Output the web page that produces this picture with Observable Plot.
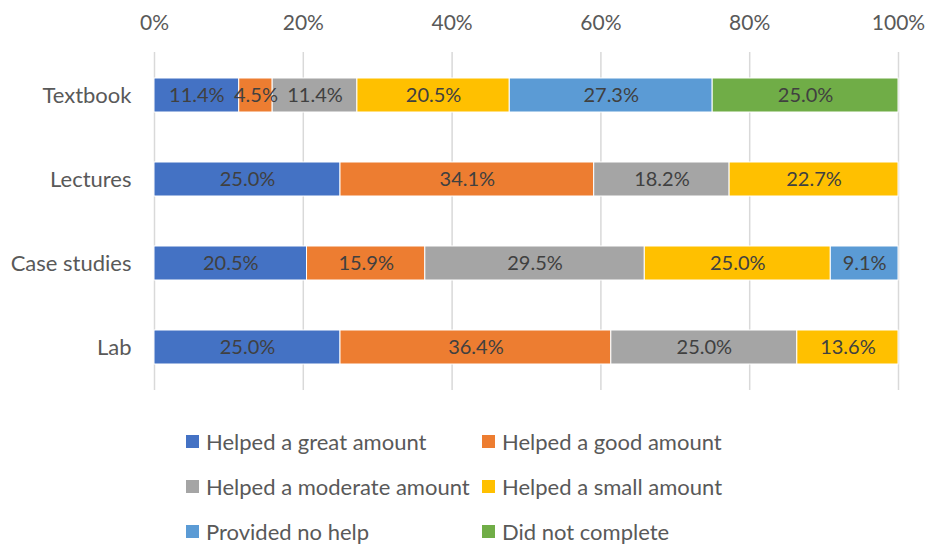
<!DOCTYPE html>
<html>
<head>
<meta charset="utf-8">
<script src="https://cdn.jsdelivr.net/npm/d3@7"></script>
<script src="https://cdn.jsdelivr.net/npm/@observablehq/plot@0.6"></script>
<style>
  body { margin: 0; background: #fff; font-family: Lato, "Open Sans", sans-serif; }
  #legend {
    display: grid;
    grid-template-columns: 296px auto;
    grid-auto-rows: 45px;
    padding-left: 186px;
    margin-top: 19px;
    font-size: 22px;
    color: #595959;
  }
  .item { display: flex; align-items: center; }
  .sw { width: 13px; height: 13px; margin-right: 7px; flex: none; }
</style>
</head>
<body>
<div id="chart"></div>
<div id="legend"></div>
<script>
// Learning resources (rows) and how much each helped (series)
const resources = ["Textbook", "Lectures", "Case studies", "Lab"];
const responses = [
  "Helped a great amount",
  "Helped a good amount",
  "Helped a moderate amount",
  "Helped a small amount",
  "Provided no help",
  "Did not complete"
];
const colors = ["#4472C4", "#ED7D31", "#A5A5A5", "#FFC000", "#5B9BD5", "#70AD47"];

// Percent of respondents per response, one array per resource
const textbook    = [11.4, 4.5, 11.4, 20.5, 27.3, 25.0];
const lectures    = [25.0, 34.1, 18.2, 22.7, 0, 0];
const caseStudies = [20.5, 15.9, 29.5, 25.0, 9.1, 0];
const lab         = [25.0, 36.4, 25.0, 13.6, 0, 0];

const xTicks = [0, 0.2, 0.4, 0.6, 0.8, 1];

const series = [textbook, lectures, caseStudies, lab];
const rows = [];
resources.forEach((r, i) => {
  series[i].forEach((v, j) => {
    if (v > 0) rows.push({resource: r, response: responses[j], value: v});
  });
});

const stack = {x: "value", y: "resource", z: "response", order: responses, offset: "normalize"};

const chart = Plot.plot({
  width: 926,
  height: 400,
  marginLeft: 154,
  marginRight: 28,
  marginTop: 52,
  marginBottom: 10,
  style: {fontFamily: "Lato, 'Open Sans', sans-serif", fontSize: "20px", color: "#595959", background: "#fff"},
  x: {domain: [0, 1], label: null},
  y: {domain: resources, paddingInner: 0.6, paddingOuter: 0.3, label: null},
  color: {domain: responses, range: colors},
  marks: [
    Plot.gridX(xTicks, {stroke: "#d9d9d9", strokeOpacity: 1, strokeWidth: 1.5}),
    Plot.axisX(xTicks, {anchor: "top", label: null, tickSize: 0, tickPadding: 23, tickFormat: d => Math.round(d * 100) + "%", fill: "#595959", fontSize: 21}),
    Plot.axisY({label: null, tickSize: 0, tickPadding: 23, fill: "#595959", fontSize: 22}),
    Plot.barX(rows, Plot.stackX({...stack, fill: "response", stroke: "#fff", strokeWidth: 1})),
    Plot.text(rows, Plot.stackX({...stack, text: d => d.value.toFixed(1) + "%", fill: "#404040", fontSize: 20}))
  ]
});
document.getElementById("chart").appendChild(chart);

const legend = document.getElementById("legend");
responses.forEach((r, i) => {
  const item = document.createElement("div");
  item.className = "item";
  const sw = document.createElement("span");
  sw.className = "sw";
  sw.style.background = colors[i];
  const label = document.createElement("span");
  label.textContent = r;
  item.appendChild(sw);
  item.appendChild(label);
  legend.appendChild(item);
});
</script>
</body>
</html>
